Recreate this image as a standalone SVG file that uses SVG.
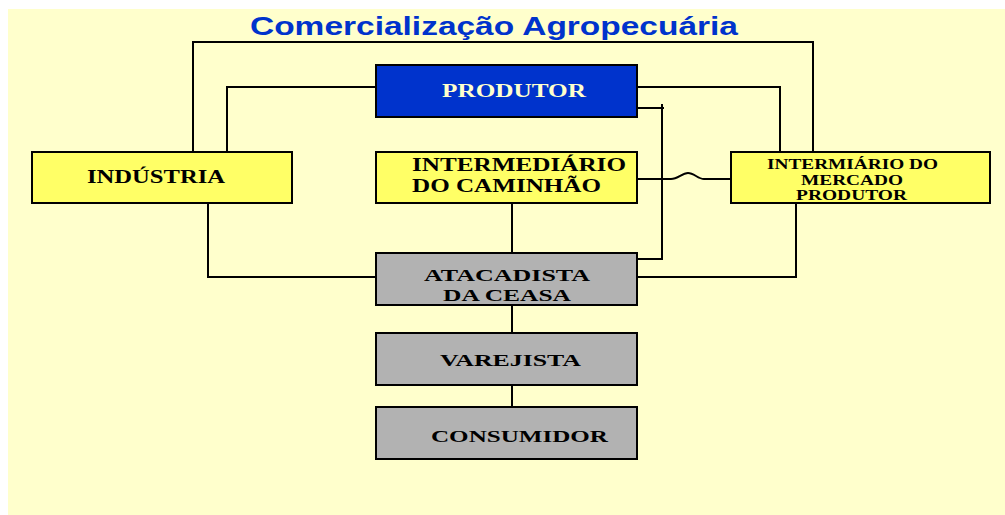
<svg xmlns="http://www.w3.org/2000/svg" width="1005" height="515" viewBox="0 0 1005 515">
<style>
.box{stroke:#000;stroke-width:2}
.yel{fill:#FFFF66}
.gry{fill:#B2B2B2}
.blu{fill:#0033CC}
.t{font-family:"Liberation Serif","Times New Roman",serif;font-weight:bold;fill:#000}
.w{fill:#FFFFCC}
.c{fill:none;stroke:#000;stroke-width:2}
</style>
<rect x="0" y="0" width="1005" height="515" fill="#FFFFFF"/>
<rect x="8" y="9" width="997" height="506" fill="#FFFFCC"/>
<text x="494" y="35" text-anchor="middle" font-family="Liberation Sans, Arial, sans-serif" font-weight="bold" font-size="25" fill="#0033CC" textLength="488" lengthAdjust="spacingAndGlyphs">Comercialização Agropecuária</text>
<g id="connectors">
<polyline class="c" points="193,152 193,42 813,42 813,152"/>
<polyline class="c" points="376,87 227,87 227,152"/>
<polyline class="c" points="637,87 780,87 780,152"/>
<polyline class="c" points="637,108 664,108"/>
<polyline class="c" points="662,104 662,259 637,259"/>
<path class="c" d="M637,179 L671,179 C678,179 682,173 688,173 C694,173 698,179 704,179 L731,179"/>
<polyline class="c" points="208,203 208,277 376,277"/>
<polyline class="c" points="796,203 796,277 637,277"/>
<line class="c" x1="512" y1="203" x2="512" y2="253"/>
<line class="c" x1="512" y1="305" x2="512" y2="333"/>
<line class="c" x1="512" y1="385" x2="512" y2="407"/>
</g>
<g id="produtor">
<rect class="box blu" x="376" y="65" width="261" height="52"/>
<text class="t w" x="442" y="97" font-size="18" style="fill:#FFFFCC" textLength="144" lengthAdjust="spacingAndGlyphs">PRODUTOR</text>
</g>
<g id="industria">
<rect class="box yel" x="32" y="152" width="260" height="51"/>
<text class="t" x="87" y="183" font-size="18" textLength="138" lengthAdjust="spacingAndGlyphs">INDÚSTRIA</text>
</g>
<g id="caminhao">
<rect class="box yel" x="376" y="152" width="261" height="51"/>
<text class="t" x="412" y="171" font-size="18" textLength="214" lengthAdjust="spacingAndGlyphs">INTERMEDIÁRIO</text>
<text class="t" x="412" y="192" font-size="18" textLength="189" lengthAdjust="spacingAndGlyphs">DO CAMINHÃO</text>
</g>
<g id="mercado">
<rect class="box yel" x="731" y="152" width="259" height="51"/>
<text class="t" x="767" y="169" font-size="14" textLength="171" lengthAdjust="spacingAndGlyphs">INTERMIÁRIO DO</text>
<text class="t" x="801" y="185" font-size="14" textLength="102" lengthAdjust="spacingAndGlyphs">MERCADO</text>
<text class="t" x="796" y="200" font-size="14" textLength="111" lengthAdjust="spacingAndGlyphs">PRODUTOR</text>
</g>
<g id="atacadista">
<rect class="box gry" x="376" y="253" width="261" height="52"/>
<text class="t" x="424" y="281" font-size="17" textLength="166" lengthAdjust="spacingAndGlyphs">ATACADISTA</text>
<text class="t" x="443" y="301" font-size="17" textLength="128" lengthAdjust="spacingAndGlyphs">DA CEASA</text>
</g>
<g id="varejista">
<rect class="box gry" x="376" y="333" width="261" height="52"/>
<text class="t" x="440" y="366" font-size="17" textLength="141" lengthAdjust="spacingAndGlyphs">VAREJISTA</text>
</g>
<g id="consumidor">
<rect class="box gry" x="376" y="407" width="261" height="52"/>
<text class="t" x="431" y="442" font-size="17" textLength="177" lengthAdjust="spacingAndGlyphs">CONSUMIDOR</text>
</g>
</svg>
